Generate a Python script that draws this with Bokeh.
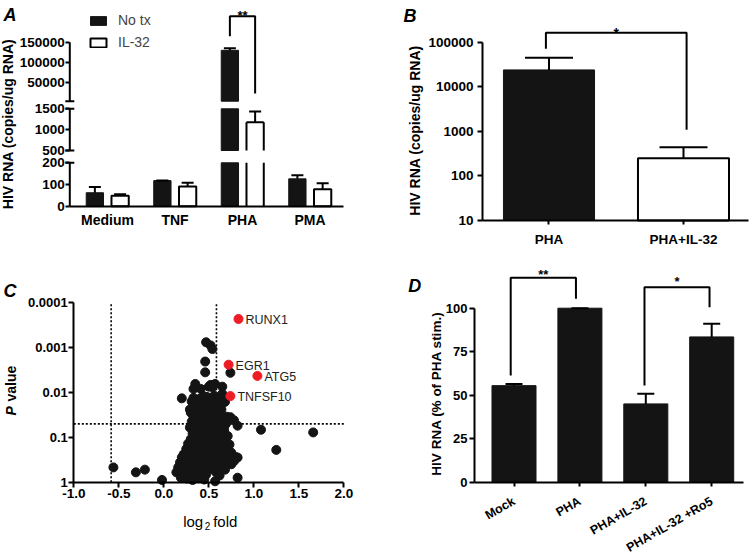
import numpy as np
from bokeh.plotting import figure
from bokeh.models import (ColumnDataSource, FixedTicker, Label, LabelSet, Legend, LegendItem,
                          Whisker, TeeHead, Range1d, PrintfTickFormatter, NumeralTickFormatter)
from bokeh.layouts import row, column
from bokeh.core.properties import value
from bokeh.embed import file_html
from bokeh.resources import INLINE

FONT = "Liberation Sans"
BLACK = "#141414"
RED = "#ee1c25"

# ---------------- data ----------------
a_categories = ["Medium", "TNF", "PHA", "PMA"]
a_notx = [62, 118, 130000, 126]
a_notx_err = [26, 0, 5000, 17]
a_il32 = [48, 91, 1180, 78]
a_il32_err = [7, 17, 255, 28]
a_segments = [(0, 200), (500, 1500), (5000, 150000)]
a_ticks = [0, 100, 200, 500, 1000, 1500, 50000, 100000, 150000]

b_categories = ["PHA", "PHA+IL-32"]
b_values = [23900, 250]
b_err = [20600, 190]
b_ticks = [10, 100, 1000, 10000, 100000]

# volcano plot: (log2 fold, -log10 P)
c_points = [
    (0.47, 3.12), (0.52, 3.05), (0.54, 2.97), (0.46, 2.69), (0.46, 2.45), (0.74, 2.44),
    (0.35, 2.19), (0.52, 2.17), (0.57, 2.19), (0.33, 2.08), (0.41, 2.08), (0.50, 2.13),
    (0.54, 2.12), (0.65, 2.13), (0.65, 1.97), (0.56, 1.93), (0.20, 1.87), (0.44, 1.92),
    (0.33, 1.88), (0.40, 1.86), (0.48, 1.90), (0.55, 1.84), (0.62, 1.87), (0.31, 1.80),
    (0.38, 1.82), (0.47, 1.78), (0.52, 1.85), (0.60, 1.76), (0.68, 1.79), (0.35, 1.70),
    (0.42, 1.68), (0.50, 1.72), (0.56, 1.66), (0.64, 1.62), (0.29, 1.62), (0.45, 1.60),
    (0.52, 1.62), (0.38, 1.59), (0.59, 1.59),
    (0.30, 1.55), (0.36, 1.58), (0.40, 1.52), (0.45, 1.56), (0.49, 1.50), (0.53, 1.57),
    (0.58, 1.53), (0.62, 1.48), (0.70, 1.46), (0.74, 1.45), (0.78, 1.38), (0.72, 1.40),
    (0.33, 1.45), (0.38, 1.42), (0.43, 1.46), (0.47, 1.40), (0.52, 1.44), (0.56, 1.38),
    (0.60, 1.42), (0.66, 1.36), (0.31, 1.35), (0.35, 1.30), (0.41, 1.33), (0.45, 1.28),
    (0.50, 1.32), (0.55, 1.27), (0.59, 1.31), (0.64, 1.25), (0.69, 1.30), (0.82, 1.26),
    (0.29, 1.22), (0.34, 1.18), (0.39, 1.21), (0.44, 1.15), (0.48, 1.20), (0.53, 1.14),
    (0.57, 1.19), (0.62, 1.12), (0.67, 1.17), (0.32, 1.08), (0.37, 1.05), (0.42, 1.10),
    (0.46, 1.03), (0.51, 1.07), (0.55, 1.01), (0.60, 1.05), (0.65, 0.99), (0.71, 1.03),
    (0.30, 0.96), (0.35, 0.93), (0.40, 0.97), (0.44, 0.90), (0.49, 0.94), (0.53, 0.88),
    (0.58, 0.92), (0.63, 0.86), (0.68, 0.90), (0.73, 0.84), (0.27, 0.86), (0.33, 0.82),
    (0.38, 0.85), (0.43, 0.79), (0.47, 0.83), (0.52, 0.77), (0.56, 0.81), (0.61, 0.75),
    (0.66, 0.79), (0.70, 0.73), (0.25, 0.74), (0.31, 0.71), (0.36, 0.74), (0.41, 0.68),
    (0.45, 0.72), (0.50, 0.66), (0.54, 0.70), (0.59, 0.64), (0.64, 0.68), (0.69, 0.62),
    (0.75, 0.66), (0.22, 0.62), (0.28, 0.60), (0.34, 0.63),
    (0.20, 0.55), (0.26, 0.52), (0.32, 0.56), (0.37, 0.50), (0.42, 0.54), (0.47, 0.48),
    (0.52, 0.52), (0.57, 0.46), (0.62, 0.50), (0.67, 0.56), (0.72, 0.52), (0.77, 0.58),
    (0.80, 0.56), (0.82, 0.55), (0.18, 0.44), (0.24, 0.40), (0.29, 0.45), (0.35, 0.38),
    (0.40, 0.42), (0.45, 0.36), (0.50, 0.40), (0.55, 0.34), (0.60, 0.44), (0.66, 0.38),
    (0.70, 0.45), (0.75, 0.40), (0.78, 0.47), (0.16, 0.33), (0.22, 0.30), (0.27, 0.35),
    (0.33, 0.28), (0.43, 0.32), (0.53, 0.30), (0.63, 0.33), (0.68, 0.28),
    (0.14, 0.22), (0.20, 0.18), (0.25, 0.24), (0.30, 0.15), (0.36, 0.20), (0.41, 0.13),
    (0.47, 0.17), (0.58, 0.22), (0.62, 0.15), (0.19, 0.10), (0.26, 0.08), (0.32, 0.05),
    (0.39, 0.09), (0.45, 0.06), (0.57, 0.02), (0.82, 0.10),
    (-0.02, 0.05), (-0.56, 0.33), (-0.31, 0.22), (-0.21, 0.28),
    (1.08, 1.17), (1.66, 1.11), (1.25, 0.72),
]
c_log2fold = [pt[0] for pt in c_points]
c_neglog10p = [pt[1] for pt in c_points]
c_genes = ["RUNX1", "EGR1", "ATG5", "TNFSF10"]
c_gene_log2fold = [0.83, 0.72, 1.04, 0.74]
c_gene_neglog10p = [3.64, 2.62, 2.37, 1.92]
c_pvalue_ticks = [1, 0.1, 0.01, 0.001, 0.0001]
c_fold_cutoff = 1.5
c_p_cutoff = 0.05

d_categories = ["Mock", "PHA", "PHA+IL-32", "PHA+IL-32 +Ro5"]
d_values = [55.5, 100, 45, 83.5]
d_err = [1, 0, 5.8, 7.5]
d_ticks = [0, 25, 50, 75, 100]


# ---------------- helpers ----------------
def make_fig(w, h, xr, yr, y_axis_type="linear"):
    p = figure(width=w, height=h, x_range=Range1d(*xr), y_range=Range1d(*yr),
               y_axis_type=y_axis_type, output_backend="svg", toolbar_location=None,
               min_border=0, min_border_left=0, min_border_right=0, min_border_top=0,
               min_border_bottom=0)
    p.outline_line_color = None
    p.xgrid.visible = False
    p.ygrid.visible = False
    p.background_fill_color = "white"
    p.border_fill_color = "white"
    for ax in p.axis:
        ax.axis_line_width = 2
        ax.axis_line_color = "black"
        ax.major_tick_line_width = 2
        ax.major_tick_line_color = "black"
        ax.major_tick_out = 5
        ax.major_tick_in = 0
        ax.minor_tick_line_color = None
        ax.major_label_text_font = FONT
        ax.major_label_text_font_style = "bold"
        ax.major_label_text_font_size = "13px"
        ax.major_label_text_color = "black"
        ax.major_label_standoff = 2
    return p


def add_err(p, xs, lows, ups, cap):
    src = ColumnDataSource(dict(base=list(xs), lower=list(lows), upper=list(ups)))
    p.add_layout(Whisker(source=src, base="base", lower="lower", upper="upper",
                         dimension="height", line_color="black", line_width=2,
                         lower_head=None,
                         upper_head=TeeHead(size=cap, line_width=2, line_color="black"),
                         level="annotation"))


def add_text(p, H, px, py, text, size="13px", style_="bold", align="left",
             baseline="alphabetic", angle=0.0, X0=0, Y0=0):
    """Place a text at page position (px, py) of the panel whose canvas starts at (X0, Y0)."""
    p.add_layout(Label(x=px - X0, y=(Y0 + H) - py, x_units="screen", y_units="screen",
                       text=text, text_font=FONT, text_font_size=size,
                       text_font_style=style_, text_align=align, text_baseline=baseline,
                       angle=angle, text_color="black"))


def add_data_text(p, x, y, text, size="13px"):
    p.add_layout(Label(x=x, y=y, text=text, text_font=FONT, text_font_size=size,
                       text_font_style="bold", text_align="center",
                       text_baseline="alphabetic", text_color="black"))


def bracket(p, x0, x1, y_left, y_top, y_right):
    p.line(x=[x0, x0, x1, x1], y=[y_left, y_top, y_top, y_right], line_color="black",
           line_width=2)


# ================= panel A (broken axis) =================
AW, AH = 376, 262
A_SEG_PX = [(0.0, 43.4), (55.7, 97.4), (105.0, 164.0)]   # drawing height of each axis piece


def a_map(v):
    for (lo, hi), (p0, p1) in zip(a_segments, A_SEG_PX):
        if v <= hi:
            v = max(v, lo)
            return p0 + (v - lo) / (hi - lo) * (p1 - p0)
    lo, hi = a_segments[-1]
    p0, p1 = A_SEG_PX[-1]
    return p0 + (v - lo) / (hi - lo) * (p1 - p0)


pA = make_fig(AW, AH, (-1.585, 3.985), (-56.3, 205.7))
A_YAX = -0.5585
A_XEND = 3.496
BW = 0.256
OFF = 0.187


def pieces(vals, off):
    xs, bots, tops, full, first = [], [], [], [], []
    for i, v in enumerate(vals):
        for k, ((lo, hi), (p0, p1)) in enumerate(zip(a_segments, A_SEG_PX)):
            if v > lo:
                xs.append(i + off)
                bots.append(p0)
                tops.append(a_map(min(v, hi)))
                full.append(v <= hi)
                first.append(k == 0)
    return xs, bots, tops, full, first


bx, bb, bt, bf, b1 = pieces(a_notx, -OFF)
r_black = pA.vbar(x=bx, bottom=bb, top=bt, width=BW, fill_color=BLACK, line_color=BLACK,
                  line_width=1)

wx, wb, wt, wf, w1 = pieces(a_il32, OFF)
w_alpha = [1.0 if (f and s) else 0.0 for f, s in zip(wf, w1)]
wsrc = ColumnDataSource(dict(x=wx, bottom=wb, top=wt, la=w_alpha))
r_white = pA.vbar(x="x", bottom="bottom", top="top", width=BW, source=wsrc,
                  fill_color="white", line_color="black", line_width=2, line_alpha="la")
sx0, sy0, sx1, sy1 = [], [], [], []
for x, b, t, f, a in zip(wx, wb, wt, wf, w_alpha):
    if a == 0.0:
        for e in (-BW / 2, BW / 2):
            sx0.append(x + e); sx1.append(x + e); sy0.append(b); sy1.append(t)
        if f:
            sx0.append(x - BW / 2); sx1.append(x + BW / 2); sy0.append(t); sy1.append(t)
pA.segment(x0=sx0, y0=sy0, x1=sx1, y1=sy1, line_color="black", line_width=2)

add_err(pA, [i - OFF for i in range(4)], [a_map(v) for v in a_notx],
        [a_map(v + e) for v, e in zip(a_notx, a_notx_err)], 12)
add_err(pA, [i + OFF for i in range(4)], [a_map(v) for v in a_il32],
        [a_map(v + e) for v, e in zip(a_il32, a_il32_err)], 12)

# broken y axis
pA.yaxis.fixed_location = A_YAX
pA.yaxis.axis_line_color = None
for k, (p0, p1) in enumerate(A_SEG_PX):
    src = ColumnDataSource(dict(base=[A_YAX], lower=[p0], upper=[p1]))
    lh = None if k == 0 else TeeHead(size=9, line_width=2, line_color="black")
    uh = None if k == len(A_SEG_PX) - 1 else TeeHead(size=9, line_width=2, line_color="black")
    pA.add_layout(Whisker(source=src, base="base", lower="lower", upper="upper",
                          dimension="height", line_color="black", line_width=2,
                          lower_head=lh, upper_head=uh, level="annotation"))
a_tick_pos = [a_map(t) for t in a_ticks]
pA.yaxis.ticker = FixedTicker(ticks=a_tick_pos)
pA.yaxis.major_label_overrides = {pos: str(t) for pos, t in zip(a_tick_pos, a_ticks)}
pA.yaxis.major_label_text_font_size = "13.5px"
pA.yaxis.major_tick_out = 4
pA.yaxis.major_label_standoff = 1
pA.xaxis.fixed_location = 0
pA.xaxis.bounds = (A_YAX, A_XEND)
pA.xaxis.ticker = FixedTicker(ticks=list(range(len(a_categories))))
pA.xaxis.major_label_overrides = {i: c for i, c in enumerate(a_categories)}
pA.xaxis.major_label_text_font_size = "14px"
pA.xaxis.major_tick_out = 0
pA.xaxis.major_label_standoff = 6

top_left = a_map(a_notx[2] + a_notx_err[2])
bracket(pA, 2 - OFF, 2 + OFF, top_left + 12, top_left + 32, a_map(24000))
add_data_text(pA, 2.0, top_left + 33, "**")

legend = Legend(items=[LegendItem(label="No tx", renderers=[r_black], index=0),
                       LegendItem(label="IL-32", renderers=[r_white], index=0)],
                location=(88, 212), orientation="vertical", glyph_width=20, glyph_height=11,
                label_height=11, label_standoff=10, spacing=6, padding=0, margin=0,
                border_line_color=None, background_fill_alpha=0,
                label_text_font=FONT, label_text_font_size="14px")
pA.add_layout(legend)
add_text(pA, AH, 7.5, 123.5, "HIV RNA (copies/ug RNA)", size="14px", align="center",
         baseline="middle", angle=np.pi / 2)
add_text(pA, AH, 3, 14, "A", size="18px", style_="bold italic")

# ================= panel B =================
BWD, BH = 375, 262
B_X0 = 376
pB = make_fig(BWD, BH, (-1.2825, 1.5056), (10 ** 0.0578, 10 ** 5.9355), y_axis_type="log")
B_YAX = -0.4944
b_bottom = b_ticks[0]
pB.vbar(x=[0], bottom=b_bottom, top=[b_values[0]], width=0.677, fill_color=BLACK,
        line_color=BLACK, line_width=1)
pB.vbar(x=[1], bottom=b_bottom, top=[b_values[1]], width=0.677, fill_color="white",
        line_color="black", line_width=2)
add_err(pB, [0, 1], b_values, [v + e for v, e in zip(b_values, b_err)], 48)
pB.yaxis.fixed_location = B_YAX
pB.yaxis.ticker = FixedTicker(ticks=b_ticks)
pB.yaxis.formatter = NumeralTickFormatter(format="0")
pB.yaxis.bounds = (b_ticks[0], b_ticks[-1])
pB.yaxis.major_label_text_font_size = "13.5px"
pB.yaxis.major_label_standoff = 4
pB.xaxis.fixed_location = b_bottom
pB.xaxis.bounds = (B_YAX, 1.481)
pB.xaxis.ticker = FixedTicker(ticks=[0, 1])
pB.xaxis.major_label_overrides = {i: c for i, c in enumerate(b_categories)}
pB.xaxis.major_label_text_font_size = "13.5px"
pB.xaxis.major_tick_out = 4
pB.xaxis.major_label_standoff = 7
b_top = b_values[0] + b_err[0]
bracket(pB, -0.023, 1.023, b_top * 1.6, b_top * 3.65, 1084)
add_data_text(pB, 0.5, b_top * 3.6, "*", size="14px")
add_text(pB, BH, 414.6, 130, "HIV RNA (copies/ug RNA)", size="14px", align="center",
         baseline="middle", angle=np.pi / 2, X0=B_X0)
add_text(pB, BH, 403, 15, "B", size="18px", style_="bold italic", X0=B_X0)

# ================= panel C =================
CW, CH = 376, 293
C_Y0 = 262
pC = make_fig(CW, CH, (-1.8144, 2.3634), (-1.6343, 4.8986))
pC.xaxis.fixed_location = 0
pC.xaxis.bounds = (-1, 2)
pC.xaxis.ticker = FixedTicker(ticks=[-1.0, -0.5, 0.0, 0.5, 1.0, 1.5, 2.0])
pC.xaxis.formatter = PrintfTickFormatter(format="%.1f")
pC.xaxis.major_label_text_font_size = "13.5px"
pC.xaxis.major_label_standoff = 2
c_tick_pos = [float(-np.log10(t)) for t in c_pvalue_ticks]
pC.yaxis.fixed_location = -1
pC.yaxis.bounds = (0, c_tick_pos[-1])
pC.yaxis.ticker = FixedTicker(ticks=c_tick_pos)
pC.yaxis.major_label_overrides = {pos: (f"{t:.4f}".rstrip("0").rstrip(".") if t < 1 else "1")
                                  for pos, t in zip(c_tick_pos, c_pvalue_ticks)}
pC.yaxis.major_label_standoff = 1
fc = float(np.log2(c_fold_cutoff))
pcut = float(-np.log10(c_p_cutoff))
for xv in (-fc, fc):
    pC.line(x=[xv, xv], y=[0, c_tick_pos[-1]], line_color="black", line_width=1.6,
            line_dash="2 2")
pC.line(x=[-1, 2], y=[pcut, pcut], line_color="black", line_width=1.6, line_dash="2 2")
pC.scatter(x=c_log2fold, y=c_neglog10p, size=9, fill_color=BLACK, line_color=BLACK)
gsrc = ColumnDataSource(dict(x=c_gene_log2fold, y=c_gene_neglog10p, text=c_genes))
pC.scatter(x="x", y="y", source=gsrc, size=9, fill_color=RED, line_color=RED)
pC.add_layout(LabelSet(source=gsrc, x="x", y="y", text="text", x_offset=7, y_offset=-1,
                       text_baseline="middle", text_align="left", text_font=value(FONT),
                       text_font_size="12.5px", text_color="#222222"))
add_text(pC, CH, 10.3, 415, "P", size="14px", style_="bold italic", baseline="middle",
         angle=np.pi / 2, Y0=C_Y0)
add_text(pC, CH, 10.3, 401, "value", size="14px", style_="bold", baseline="middle",
         angle=np.pi / 2, Y0=C_Y0)
add_text(pC, CH, 182.7, 520.7, "log", size="15px", style_="normal", Y0=C_Y0)
add_text(pC, CH, 204.3, 525, "2", size="10px", style_="normal", Y0=C_Y0)
add_text(pC, CH, 212.7, 520.7, "fold", size="15px", style_="normal", Y0=C_Y0)
add_text(pC, CH, 3, 290, "C", size="18px", style_="bold italic", Y0=C_Y0)

# ================= panel D =================
DW, DH = 375, 293
D_X0, D_Y0 = 376, 262
pD = make_fig(DW, DH, (-2.0865, 3.6039), (-42.126, 126.264))
D_YAX = -0.599
dx = list(range(len(d_categories)))
pD.vbar(x=dx, top=d_values, width=0.668, fill_color=BLACK, line_color=BLACK, line_width=1)
add_err(pD, dx, d_values, [v + e for v, e in zip(d_values, d_err)], 17)
pD.yaxis.fixed_location = D_YAX
pD.yaxis.ticker = FixedTicker(ticks=d_ticks)
pD.yaxis.bounds = (d_ticks[0], d_ticks[-1])
pD.yaxis.major_label_standoff = 2
pD.xaxis.fixed_location = 0
pD.xaxis.bounds = (D_YAX, 3.478)
pD.xaxis.ticker = FixedTicker(ticks=dx)
pD.xaxis.major_label_overrides = {i: c for i, c in enumerate(d_categories)}
pD.xaxis.major_label_orientation = np.pi / 6
pD.xaxis.major_label_text_font_size = "12.5px"
pD.xaxis.major_tick_out = 4
pD.xaxis.major_label_standoff = 14
bracket(pD, -0.05, 0.94, d_values[0] + 5.8, d_values[1] + 17.5, d_values[1] + 5.4)
add_data_text(pD, 0.445, d_values[1] + 19.4, "**")
bracket(pD, 1.98, 2.967, d_values[2] + 10.6, d_values[3] + 28.6, d_values[3] + 17.1)
add_data_text(pD, 2.475, d_values[3] + 31.8, "*")
add_text(pD, DH, 436.3, 393, "HIV RNA (% of PHA stim.)", size="13.5px", align="center",
         baseline="middle", angle=np.pi / 2, X0=D_X0, Y0=D_Y0)
add_text(pD, DH, 407.7, 285, "D", size="18px", style_="bold italic", X0=D_X0, Y0=D_Y0)

layout = column(row(pA, pB), row(pC, pD))
open("out.html", "w").write(file_html(layout, INLINE))
